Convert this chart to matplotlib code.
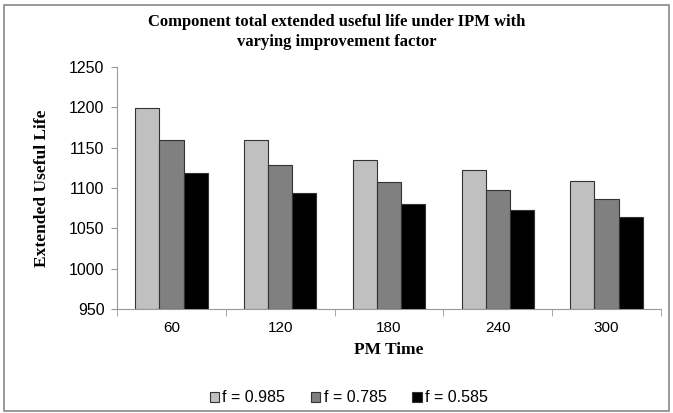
import numpy as np
import matplotlib.pyplot as plt
from matplotlib.patches import Rectangle

pm_time = ["60", "120", "180", "240", "300"]
f_0985 = [1199, 1160, 1135, 1122, 1108]
f_0785 = [1159, 1128, 1107, 1098, 1086]
f_0585 = [1118, 1094, 1080, 1073, 1064]
labels = ["f = 0.985", "f = 0.785", "f = 0.585"]
colors = ["#c0c0c0", "#808080", "#000000"]

fig = plt.figure(figsize=(6.73, 4.13), dpi=100)
ax = fig.add_axes([0.174, 0.252, 0.808, 0.586])

x = np.arange(len(pm_time))
w = 0.222
series = [f_0985, f_0785, f_0585]
for i, vals in enumerate(series):
    ax.bar(x + (i - 1) * w, np.array(vals) - 950, w, bottom=950, color=colors[i],
           edgecolor="#333333", linewidth=0.8, label=labels[i], zorder=3)

ax.set_xlim(-0.5, len(pm_time) - 0.5)
ax.set_ylim(950, 1250)
ax.set_yticks(np.arange(950, 1251, 50))
ax.set_xticks(x)
ax.set_xticklabels(pm_time, family="Liberation Sans", fontsize=11)
ax.set_xticks(np.arange(-0.5, len(pm_time)), minor=True)
ax.tick_params(axis="x", which="major", length=0, pad=9)
ax.tick_params(axis="x", which="minor", length=5, color="#999999", direction="out")
ax.tick_params(axis="y", length=4, color="#999999", labelsize=11.5, pad=5)
for lbl in ax.get_yticklabels():
    lbl.set_family("Liberation Sans")

for s in ["top", "right"]:
    ax.spines[s].set_visible(False)
for s in ["left", "bottom"]:
    ax.spines[s].set_color("#999999")

ax.set_xlabel("PM Time", family="Liberation Serif", fontweight="bold", fontsize=12.5, labelpad=5)
ax.set_ylabel("Extended Useful Life", family="Liberation Serif", fontweight="bold", fontsize=12.5, labelpad=14)

fig.text(0.5, 0.922, "Component total extended useful life under IPM with\nvarying improvement factor",
         ha="center", va="center", family="Liberation Serif", fontweight="bold", fontsize=12,
         linespacing=1.35)

leg = fig.legend(loc="center", bbox_to_anchor=(0.518, 0.037), ncol=3, frameon=False,
                 handlelength=0.6, handleheight=0.6, handletextpad=0.2, columnspacing=1.6,
                 prop={"family": "Liberation Sans", "size": 11.5})

fig.patches.append(Rectangle((0.006, 0.006), 0.988, 0.982, transform=fig.transFigure,
                             fill=False, edgecolor="#888888", linewidth=1.2))

fig.savefig("out.png", dpi=100)
